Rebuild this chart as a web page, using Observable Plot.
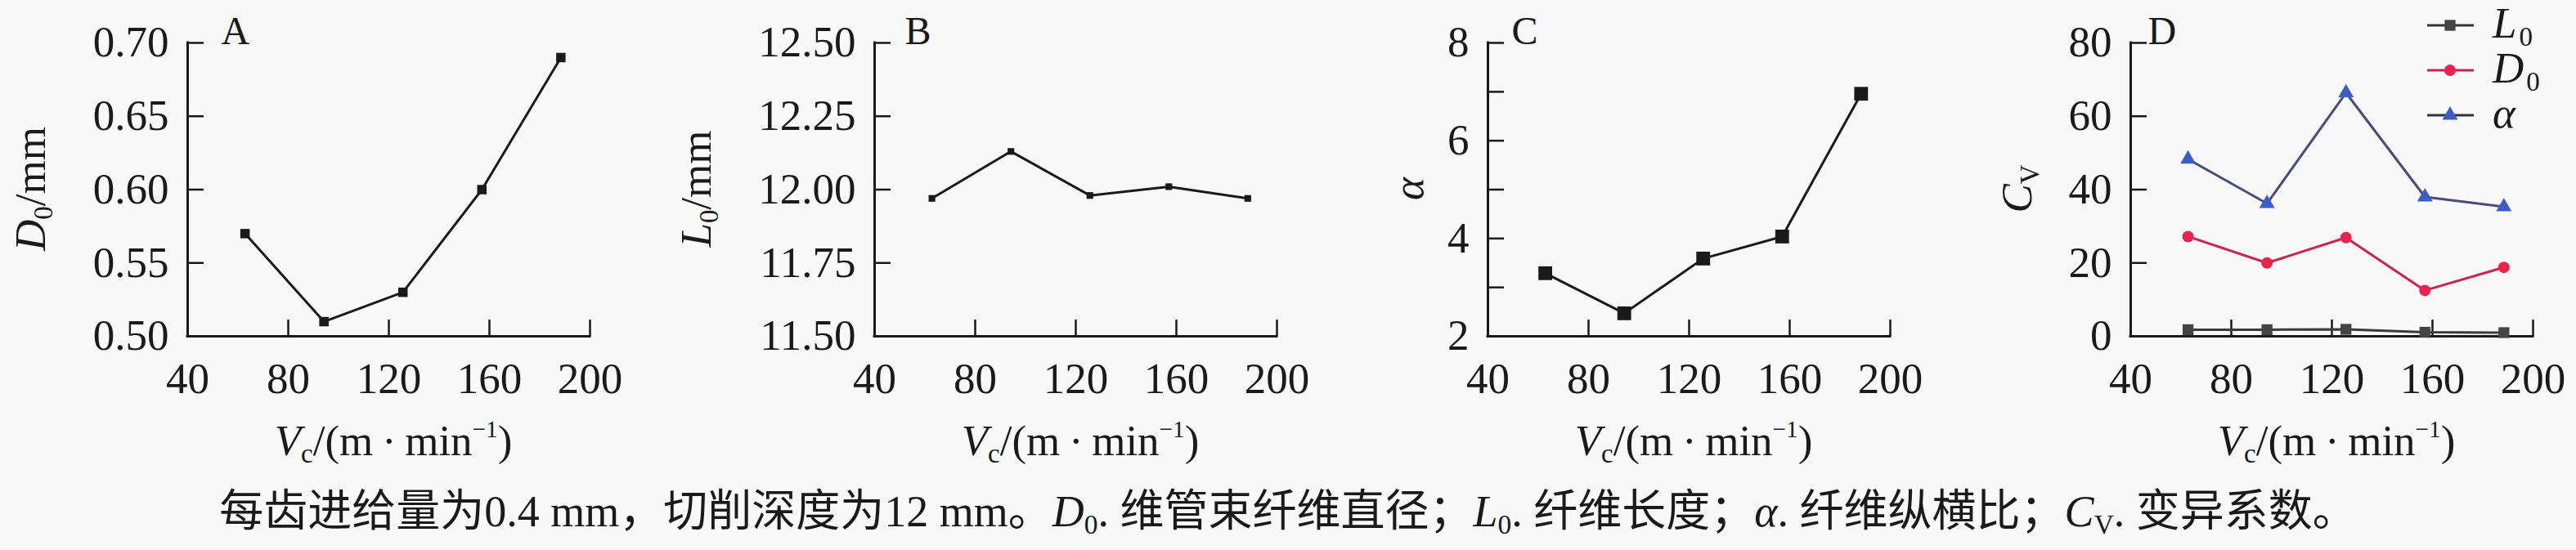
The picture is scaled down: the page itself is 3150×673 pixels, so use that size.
<!DOCTYPE html>
<html>
<head>
<meta charset="utf-8">
<script src="https://cdn.jsdelivr.net/npm/d3@7"></script>
<script src="https://cdn.jsdelivr.net/npm/@observablehq/plot@0.6"></script>
<style>
  html, body { margin: 0; padding: 0; background: #f8f8f8; }
  #root { position: relative; width: 3150px; height: 673px; background: #f8f8f8; overflow: hidden;
          font-family: "Liberation Serif", "Noto Sans CJK SC", serif; color: #1a1a1a; }
  .panel { position: absolute; top: 0; }
  .lab { position: absolute; font-size: 53px; line-height: 1; white-space: nowrap; }
  .lab sub, #cap sub { font-size: 0.62em; vertical-align: -0.28em; line-height: 0; }
  .lab sup { font-size: 0.55em; vertical-align: 0.75em; line-height: 0; }
  .rot { transform: translate(-50%, -50%) rotate(-90deg); }
  #cap { position: absolute; left: 0; width: 3150px; top: 599px; text-align: center; font-size: 54px; line-height: 1;
         font-family: "Liberation Serif", "Noto Sans CJK SC", serif; white-space: nowrap; }
</style>
</head>
<body>
<div id="root"></div>
<script>
// ---------- data ----------
const vc = [62.8, 94.2, 125.6, 157.0, 188.4];          // cutting speed, m/min
const d0 = [0.57, 0.51, 0.53, 0.60, 0.69];             // A: vascular bundle fibre diameter (mm)
const l0 = [11.97, 12.13, 11.98, 12.01, 11.97];        // B: fibre length (mm)
const alpha = [3.29, 2.47, 3.59, 4.04, 6.96];          // C: aspect ratio
const cvL0 = [1.8, 1.8, 1.9, 1.1, 1.0];                // D: CV of L0
const cvD0 = [27.2, 20.0, 26.9, 12.5, 18.8];           // D: CV of D0
const cvAlpha = [48.3, 36.2, 66.4, 38.0, 35.3];        // D: CV of alpha
const xTicks = [40, 80, 120, 160, 200];
const yTicksA = [0.50, 0.55, 0.60, 0.65, 0.70];
const yTicksB = [11.50, 11.75, 12.00, 12.25, 12.50];
const yTicksC = [2, 3, 4, 5, 6, 7, 8];
const yLabelsC = [2, 4, 6, 8];
const yTicksD = [0, 20, 40, 60, 80];
const panelLetters = ["A", "B", "C", "D"];
const legendNames = ["L0", "D0", "α"];

// ---------- layout ----------
const root = document.getElementById("root");
const PW = 492, PH = 359, MT = 52, ML = 200, MR = 60, H = 500;
const INK = "#1a1a1a";

function panel({left, yDomain, yTicks, yLabels, yFormat, letter, letterDx, series}) {
  const marks = [
    Plot.ruleX([xTicks[0]], {stroke: INK, strokeWidth: 3, strokeLinecap: "square"}),
    Plot.ruleY([yDomain[0]], {stroke: INK, strokeWidth: 3, strokeLinecap: "square"}),
    Plot.tickX(xTicks.slice(1), {x: d => d, insetTop: PH - 20, stroke: INK, strokeWidth: 2.5}),
    Plot.tickY(yTicks.slice(1), {y: d => d, insetRight: PW - 20, stroke: INK, strokeWidth: 2.5}),
    Plot.axisX(xTicks, {tickSize: 0, tickPadding: 32, fontSize: 53, label: null}),
    Plot.axisY(yLabels, {tickSize: 0, tickPadding: 23, fontSize: 53, label: null, tickFormat: yFormat}),
    Plot.text([letter], {frameAnchor: "top-left", textAnchor: "start", lineAnchor: "bottom", dx: letterDx, dy: 1, fontSize: 48})
  ];
  for (const s of series) {
    const data = vc.map((x, i) => ({x, y: s.values[i]}));
    marks.push(Plot.line(data, {x: "x", y: "y", stroke: s.line, strokeWidth: 3}));
    marks.push(Plot.dot(data, {x: "x", y: "y", symbol: s.symbol, r: s.r, fill: s.fill, stroke: "none"}));
  }
  const svg = Plot.plot({
    width: ML + PW + MR, height: H,
    marginLeft: ML, marginRight: MR, marginTop: MT, marginBottom: H - MT - PH,
    style: {background: "transparent", color: INK, fontFamily: "Liberation Serif, serif", fontSize: "53px", overflow: "visible"},
    x: {domain: [40, 200], label: null},
    y: {domain: yDomain, label: null},
    marks
  });
  svg.classList.add("panel");
  svg.style.left = (left - ML) + "px";
  root.appendChild(svg);
}

panel({left: 229, yDomain: [0.5, 0.7], yTicks: yTicksA, yLabels: yTicksA, yFormat: d3.format(".2f"),
       letter: panelLetters[0], letterDx: 41,
       series: [{values: d0, line: INK, fill: INK, symbol: "square", r: 6.5}]});
panel({left: 1069, yDomain: [11.5, 12.5], yTicks: yTicksB, yLabels: yTicksB, yFormat: d3.format(".2f"),
       letter: panelLetters[1], letterDx: 37,
       series: [{values: l0, line: INK, fill: INK, symbol: "square", r: 4.6}]});
panel({left: 1819, yDomain: [2, 8], yTicks: yTicksC, yLabels: yLabelsC, yFormat: d3.format("d"),
       letter: panelLetters[2], letterDx: 29,
       series: [{values: alpha, line: INK, fill: INK, symbol: "square", r: 9.5}]});
const dSeries = [
  {values: cvL0, line: "#3a3a3a", fill: "#444444", symbol: "square", r: 7.5},
  {values: cvD0, line: "#c8244e", fill: "#e8234d", symbol: "circle", r: 7},
  {values: cvAlpha, line: "#4b4b7a", fill: "#3d5cc6", symbol: "triangle", r: 7}
];
panel({left: 2605, yDomain: [0, 80], yTicks: yTicksD, yLabels: yTicksD, yFormat: d3.format("d"),
       letter: panelLetters[3], letterDx: 21, series: dSeries});

// ---------- legend (panel D) ----------
const leg = d3.select(root).append("svg").attr("class", "panel")
  .attr("width", 200).attr("height", 170).style("left", "2950px").style("overflow", "visible");
const legLine = ["#333333", "#c8244e", "#333333"];
dSeries.forEach((s, i) => {
  const cy = 31 + i * 55;
  const g = leg.append("g").attr("transform", `translate(0,${cy})`);
  g.append("line").attr("x1", 18).attr("x2", 75).attr("y1", 0).attr("y2", 0)
    .attr("stroke", legLine[i]).attr("stroke-width", 3);
  const sym = {square: d3.symbolSquare, circle: d3.symbolCircle, triangle: d3.symbolTriangle}[s.symbol];
  g.append("path").attr("transform", "translate(46,0)")
    .attr("d", d3.symbol(sym, Math.PI * s.r * s.r)()).attr("fill", s.fill);
  const t = g.append("text").attr("x", 98).attr("y", 15)
    .attr("font-family", "Liberation Serif, serif").attr("font-size", 53).attr("fill", INK);
  const name = legendNames[i];
  t.append("tspan").attr("font-style", "italic").text(name[0]);
  if (name.length > 1) t.append("tspan").attr("font-size", 33).attr("dx", 3).attr("dy", 10).text(name.slice(1));
});

// ---------- axis titles ----------
function addLabel(html, cx, top, rotate) {
  const d = document.createElement("div");
  d.className = "lab" + (rotate ? " rot" : "");
  d.innerHTML = html;
  d.style.left = cx + "px";
  d.style.top = top + "px";
  if (!rotate) d.style.transform = "translateX(-50%)";
  root.appendChild(d);
}
const xTitle = '<i>V</i><sub>c</sub>/(m\u2009·\u2009min<sup>−1</sup>)';
[229, 1069, 1819, 2605].forEach(l => addLabel(xTitle, l + PW / 2 + 6, 513, false));
addLabel('<i>D</i><sub>0</sub>/mm', 37, 231, true);
addLabel('<i>L</i><sub>0</sub>/mm', 851, 231, true);
addLabel('<i>α</i>', 1722, 231, true);
addLabel('<i>C</i><sub>V</sub>', 2466, 231, true);

// ---------- caption ----------
const cap = document.createElement("div");
cap.id = "cap";
cap.innerHTML = '每齿进给量为0.4 mm，切削深度为12 mm。<i>D</i><sub>0</sub>. 维管束纤维直径；<i>L</i><sub>0</sub>. 纤维长度；<i>α</i>. 纤维纵横比；<i>C</i><sub>V</sub>. 变异系数。';
root.appendChild(cap);
</script>
</body>
</html>
